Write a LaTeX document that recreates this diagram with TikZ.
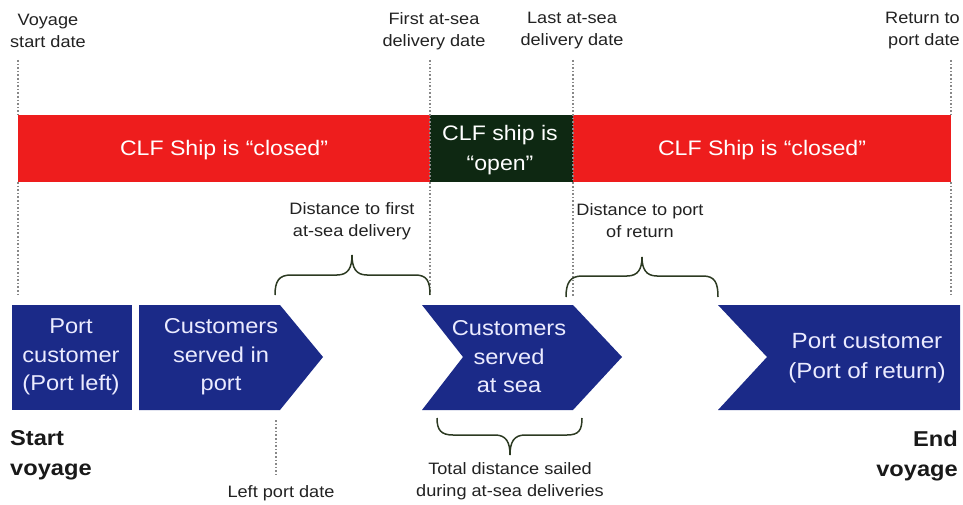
\documentclass[tikz,border=0pt]{standalone}
\usepackage{fontspec}
\setmainfont{Liberation Sans}[FakeStretch=1.1]
\definecolor{clfred}{HTML}{EE1D1D}
\definecolor{clfdark}{HTML}{0E2812}
\definecolor{clfblue}{HTML}{1B2A88}
\definecolor{bracec}{HTML}{2C3A22}
\definecolor{labelc}{HTML}{222222}
\definecolor{dotc}{HTML}{888888}
\begin{document}
\begin{tikzpicture}[x=1pt,y=-1pt,
  lbl/.style={text=labelc,font=\fontsize{16.5}{22}\selectfont,align=center,inner sep=0pt},
  bartext/.style={text=white,font=\fontsize{21}{30}\selectfont,align=center,inner sep=0pt},
  boxtext/.style={text=white!92!blue,font=\fontsize{21.5}{28.5}\selectfont,align=center,inner sep=0pt},
  bold/.style={text=black!90,font=\bfseries\fontsize{21.5}{30}\selectfont,inner sep=0pt},
  dotline/.style={draw=dotc,line width=1.6pt,dotted},
  bracestyle/.style={draw=bracec,line width=1.5pt},
  blueshape/.style={fill=clfblue}]
\useasboundingbox (0,0) rectangle (963,505);
% bar
\fill[clfred] (18,115) rectangle (430,182);
\fill[clfdark] (430,115) rectangle (573,182);
\fill[clfred] (573,115) rectangle (951,182);
\node[bartext] (c1) at (224,150) {CLF Ship is “closed”};
\node[bartext] (op) at (500,150) {CLF ship is\\“open”};
\node[bartext] (c2) at (762,150) {CLF Ship is “closed”};
% dotted lines
\coordinate (d1a) at (18,60); \coordinate (d1b) at (18,296);
\coordinate (d2a) at (430,60); \coordinate (d2b) at (430,294);
\coordinate (d3a) at (573,60); \coordinate (d3b) at (573,297);
\coordinate (d4a) at (951,60); \coordinate (d4b) at (951,297);
\coordinate (d5a) at (276,420); \coordinate (d5b) at (276,475);
\draw[dotline] (d1a) -- (18,115) (18,182) -- (d1b);
\draw[dotline] (d2a) -- (d2b);
\draw[dotline] (d3a) -- (d3b);
\draw[dotline] (d4a) -- (951,115) (951,182) -- (d4b);
\draw[dotline] (d5a) -- (d5b);
% top labels
\node[lbl] (l1) at (48,31) {Voyage\\start date};
\node[lbl] (l2) at (434,31) {First at-sea\\delivery date};
\node[lbl] (l3) at (572,31) {Last at-sea\\delivery date};
\node[lbl,align=right,anchor=east] (l4) at (960,31) {Return to\\port date};
% blue shapes
\fill[blueshape] (12,305) rectangle (132,410);
\fill[blueshape] (139,305) -- (280,305) -- (323,357) -- (280,410) -- (139,410) -- cycle;
\fill[blueshape] (422,305) -- (573,305) -- (622,357) -- (573,410) -- (422,410) -- (463,357) -- cycle;
\fill[blueshape] (718,305) -- (960,305) -- (960,410) -- (718,410) -- (767,357) -- cycle;
\node[boxtext] (b1) at (71,357) {Port\\customer\\(Port left)};
\node[boxtext] (b2) at (221,357) {Customers\\served in\\port};
\node[boxtext] (b3) at (509,357) {Customers\\served\\at sea};
\node[boxtext,font=\fontsize{22}{30}\selectfont] (b4) at (867,358) {Port customer\\(Port of return)};
% braces
\draw[bracestyle] (275,295) .. controls (275,281) and (279,275) .. (291,275) -- (337,275) .. controls (348,275) and (352,268) .. (352,255) .. controls (352,268) and (356,275) .. (367,275) -- (415,275) .. controls (427,275) and (430,281) .. (430,295);
\draw[bracestyle] (566,297) .. controls (566,283) and (570,276) .. (582,276) -- (627,276) .. controls (638,276) and (642,269) .. (642,257) .. controls (642,269) and (646,276) .. (657,276) -- (703,276) .. controls (715,276) and (718,283) .. (718,297);
\draw[bracestyle] (437,418) .. controls (437,430) and (441,435) .. (453,435) -- (495,435) .. controls (506,435) and (510,442) .. (510,455) .. controls (510,442) and (514,435) .. (525,435) -- (567,435) .. controls (579,435) and (582,430) .. (582,418);
\node[lbl] (t1) at (352,221) {Distance to first\\at-sea delivery};
\node[lbl] (t2) at (640,221) {Distance to port\\of return};
\node[lbl] (t3) at (510,481) {Total distance sailed\\during at-sea deliveries};
\node[lbl] (t4) at (281,493) {Left port date};
% start/end
\node[bold,align=left,anchor=west] (sv) at (10,455) {Start\\voyage};
\node[bold,align=right,anchor=east] (ev) at (958,456) {End\\voyage};
\end{tikzpicture}
\end{document}
